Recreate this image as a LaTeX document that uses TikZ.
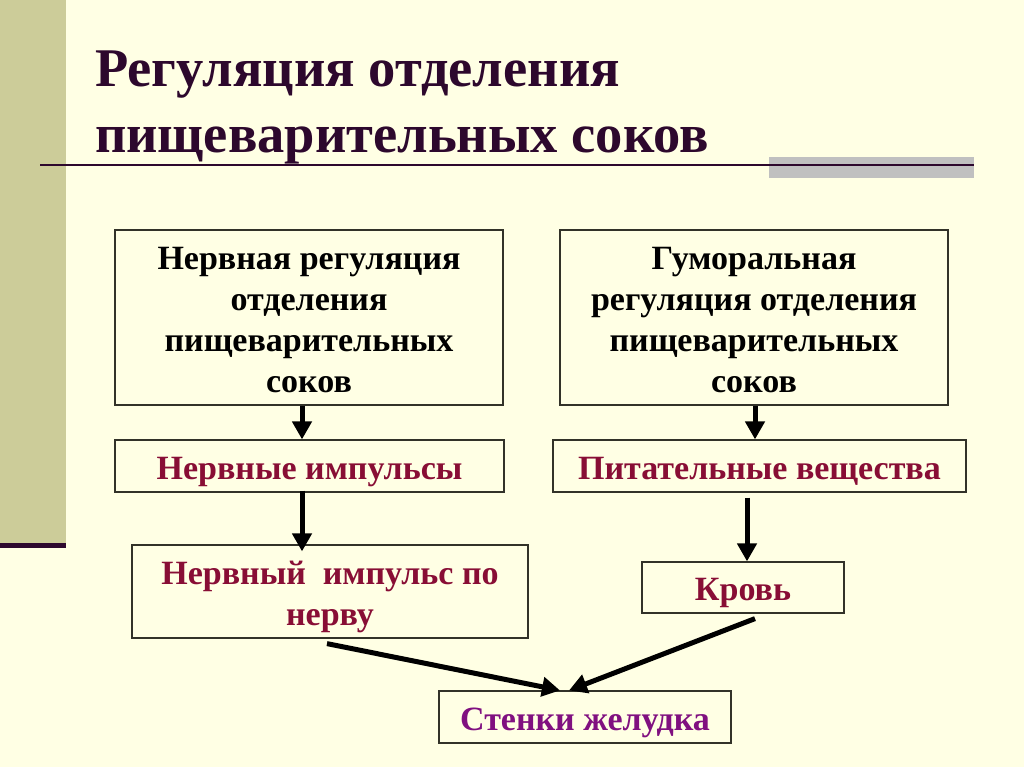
\documentclass[tikz,border=0pt]{standalone}
\usepackage{fontspec}
\setmainfont{Liberation Serif}
\usetikzlibrary{arrows.meta}
\definecolor{bgc}{RGB}{255,255,228}
\definecolor{side}{RGB}{204,204,153}
\definecolor{dpurp}{RGB}{45,8,45}
\definecolor{maroontxt}{RGB}{136,14,53}
\definecolor{purptxt}{RGB}{128,16,128}
\definecolor{graybar}{RGB}{192,192,192}
\definecolor{boxline}{RGB}{50,50,40}
\begin{document}
\begin{tikzpicture}[x=1pt,y=-1pt,
  box/.style={draw=boxline, line width=1.2pt, inner sep=0pt, align=center,
    font=\fontsize{34}{41}\selectfont\bfseries},
  onebox/.style={box, text height=30pt, text depth=4pt},
  arr/.style={line width=5pt, -{Triangle[length=18pt,width=19pt]}},
  titletext/.style={anchor=base west, inner sep=0pt, text=dpurp,
    font=\fontsize{54.5}{66}\selectfont\bfseries}]
\fill[bgc] (0,0) rectangle (1024,767);
\useasboundingbox (0,0) rectangle (1024,767);
\fill[side] (0,0) rectangle (66,543);
\fill[dpurp] (0,543) rectangle (66,548);
\fill[graybar] (769,157) rectangle (974,178);
\draw[dpurp, line width=2pt] (40,165) -- (974,165);
\node[titletext] (t1) at (95,87) {Регуляция отделения};
\node[titletext] (t2) at (95,153) {пищеварительных соков};

\node[box, minimum width=388pt, minimum height=175pt] (n1) at (309,317.5)
  {\rule{0pt}{28pt}Нервная регуляция\\отделения\\пищеварительных\\соков};
\node[box, minimum width=388pt, minimum height=175pt] (n2) at (754,317.5)
  {\rule{0pt}{28pt}Гуморальная\\регуляция отделения\\пищеварительных\\соков};
\node[onebox, text=maroontxt, minimum width=389pt, minimum height=52pt] (n3) at (309.5,466)
  {Нервные импульсы};
\node[onebox, text=maroontxt, minimum width=413pt, minimum height=52pt] (n4) at (759.5,466)
  {Питательные вещества};
\node[box, text=maroontxt, minimum width=396pt, minimum height=93pt] (n5) at (330,591.5)
  {\rule{0pt}{35pt}Нервный~ импульс по\\нерву};
\node[onebox, text=maroontxt, minimum width=202pt, minimum height=51pt] (n6) at (743,587.5)
  {Кровь};
\node[onebox, text=purptxt, minimum width=292pt, minimum height=52pt] (n7) at (585,717)
  {Стенки желудка};

\draw[arr] ([xshift=-7pt]n1.south) -- ([xshift=-7pt]n1.south |- n3.north);
\draw[arr] ([xshift=-7.5pt,yshift=2pt]n3.south) -- ([xshift=-28pt,yshift=-7pt]n5.north);
\draw[arr] ([xshift=1pt]n2.south) -- ([xshift=1pt]n2.south |- n4.north);
\draw[arr] ([xshift=4pt,yshift=-5pt]n6.north |- n4.south) -- ([xshift=4pt]n6.north);
\draw[arr] ([xshift=-3pt,yshift=-5pt]n5.south) -- ([xshift=-25pt]n7.north);
\draw[arr] ([xshift=12pt,yshift=-5pt]n6.south) -- ([xshift=-16pt]n7.north);
\end{tikzpicture}
\end{document}
